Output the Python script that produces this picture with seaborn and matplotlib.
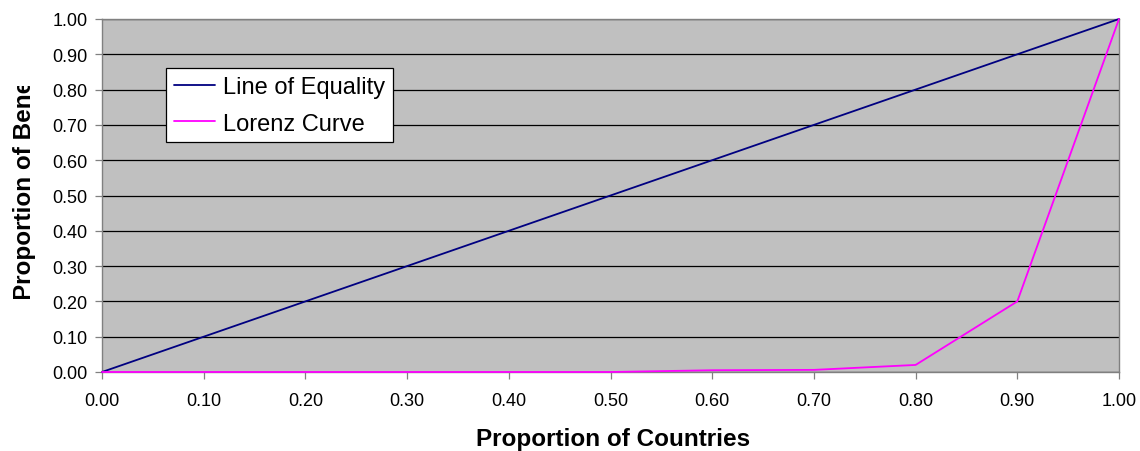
import matplotlib
matplotlib.use("Agg")
import matplotlib.pyplot as plt
from matplotlib.transforms import Bbox
import pandas as pd
import seaborn as sns

# Cumulative shares
countries = [0.0, 0.1, 0.2, 0.3, 0.4, 0.5, 0.6, 0.7, 0.8, 0.9, 1.0]
equality = [0.0, 0.1, 0.2, 0.3, 0.4, 0.5, 0.6, 0.7, 0.8, 0.9, 1.0]
lorenz = [0.0, 0.0, 0.0, 0.0, 0.0, 0.0, 0.005, 0.006, 0.02, 0.2, 1.0]
series_names = ["Line of Equality", "Lorenz Curve"]
tick_values = [0.0, 0.1, 0.2, 0.3, 0.4, 0.5, 0.6, 0.7, 0.8, 0.9, 1.0]
tick_labels = ["0.00", "0.10", "0.20", "0.30", "0.40", "0.50",
               "0.60", "0.70", "0.80", "0.90", "1.00"]

df = pd.DataFrame({
    "x": countries * 2,
    "y": equality + lorenz,
    "series": [series_names[0]] * len(countries) + [series_names[1]] * len(countries),
})

sns.set_style("white")
plt.rcParams["font.family"] = ["Liberation Sans", "DejaVu Sans"]
plt.rcParams["text.color"] = "#000000"
plt.rcParams["axes.labelcolor"] = "#000000"
plt.rcParams["xtick.color"] = "#000000"
plt.rcParams["ytick.color"] = "#000000"

W, H = 1140, 452
fig = plt.figure(figsize=(W / 100, H / 100), dpi=100)
ax = fig.add_axes([102 / W, 1 - 373 / H, (1119 - 102) / W, (373 - 20) / H])
ax.set_facecolor("#C0C0C0")

sns.lineplot(data=df, x="x", y="y", hue="series",
             palette={series_names[0]: "#000080", series_names[1]: "#FF00FF"},
             linewidth=1.3, ax=ax, sort=False, legend=True)
for line in ax.get_lines():
    line.set_clip_on(False)
    line.set_zorder(4)

ax.set_xlim(0, 1)
ax.set_ylim(0, 1)
ax.set_xticks(tick_values)
ax.set_xticklabels(tick_labels)
ax.set_yticks(tick_values)
ax.set_yticklabels(tick_labels)
ax.yaxis.grid(True, color="#000000", linewidth=0.9, zorder=1)
ax.set_axisbelow(True)
ax.tick_params(axis="both", direction="out", length=5, width=0.9, color="#808080",
               labelsize=13, labelcolor="#000000")
ax.tick_params(axis="x", pad=9.5, bottom=True, top=False)
ax.tick_params(axis="y", pad=5.5, left=True, right=False)
for side in ["left", "bottom", "right", "top"]:
    ax.spines[side].set_color("#808080")
    ax.spines[side].set_linewidth(1.0)
    ax.spines[side].set_visible(True)
    ax.spines[side].set_zorder(2.5)

ax.set_xlabel("")
ax.set_ylabel("")
fig.text(613 / W, 1 - 446 / H, "Proportion of Countries", ha="center", va="baseline",
         fontsize=17.5, fontweight="bold", color="#000000")

# y-axis title, cut off at its top end
ylab = fig.text(31 / W, 1 - 300 / H, "Proportion of Benefits", rotation=90,
                rotation_mode="anchor", ha="left", va="baseline",
                fontsize=17.5, fontweight="bold", color="#000000")
ylab.set_clip_on(True)
ylab.set_clip_box(Bbox.from_extents(0, H - 300, 60, H - 87))

leg = ax.legend(title=None, loc="upper left",
                bbox_to_anchor=((166 - 102) / 1017, (373 - 69) / 353),
                frameon=True, fancybox=False, edgecolor="#000000", facecolor="#FFFFFF",
                framealpha=1, fontsize=17, handlelength=1.75, handletextpad=0.34,
                borderpad=0.33, labelspacing=0.63, borderaxespad=0)
leg.get_frame().set_linewidth(0.9)
leg.set_zorder(6)
for line in leg.get_lines():
    line.set_linewidth(1.3)
for t in leg.get_texts():
    t.set_color("#000000")

fig.savefig("out.png", dpi=100)
